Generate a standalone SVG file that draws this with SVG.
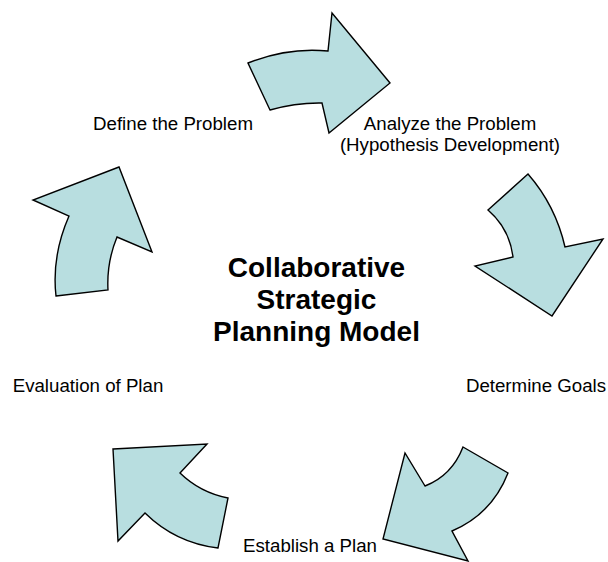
<svg xmlns="http://www.w3.org/2000/svg" width="608" height="562" viewBox="0 0 608 562">
  <style>
    .arrow { fill: #b8dee0; stroke: #000; stroke-width: 1.4; stroke-linejoin: miter; }
    .label { font-family: "Liberation Sans", Arial, sans-serif; font-size: 18.7px; fill: #000; text-anchor: middle; }
    .title { font-family: "Liberation Sans", Arial, sans-serif; font-size: 28px; font-weight: bold; fill: #000; text-anchor: middle; }
  </style>
  <rect width="608" height="562" fill="#fff"/>

  <!-- curved block arrows forming the cycle -->
  <g id="connectors">
    <path id="arrow-define-analyze" class="arrow" d="M248,63 Q288,47 328,51 L332,13 L390,83 L329,133 L322,103 Q296,102.5 270,110 Z"/>
    <path id="arrow-analyze-goals" class="arrow" d="M528,174 Q555.5,205.5 565,247 L603,239 L552,316 L475,266 L513,257 Q509.5,228.5 488,210 Z"/>
    <path id="arrow-goals-plan" class="arrow" d="M463,447 L508,473 Q492,514 452,531 L468,561 L383,539 L405,453 L425,486 Q452,475.5 463,447 Z"/>
    <path id="arrow-plan-evaluation" class="arrow" d="M113,449 L207,444 L180,473 Q200,492.5 228,498 L218,548 Q175.5,543 145,513 L118,541 Z"/>
    <path id="arrow-evaluation-define" class="arrow" d="M56,296 L108,290 Q106.5,262.5 117,237 L152,252 L119,167 L33,200 L69,216 Q51.5,256 56,296 Z"/>
  </g>

  <g id="node-define">
    <text class="label" x="173" y="130">Define the Problem</text>
  </g>
  <g id="node-analyze">
    <text class="label" x="450" y="130">Analyze the Problem</text>
    <text class="label" x="450" y="151">(Hypothesis Development)</text>
  </g>
  <g id="node-goals">
    <text class="label" x="536" y="392">Determine Goals</text>
  </g>
  <g id="node-plan">
    <text class="label" x="310" y="552">Establish a Plan</text>
  </g>
  <g id="node-evaluation">
    <text class="label" x="88" y="392">Evaluation of Plan</text>
  </g>
  <g id="node-center">
    <text class="title" x="316.5" y="277">Collaborative</text>
    <text class="title" x="316.5" y="309">Strategic</text>
    <text class="title" x="316.5" y="341">Planning Model</text>
  </g>
</svg>
